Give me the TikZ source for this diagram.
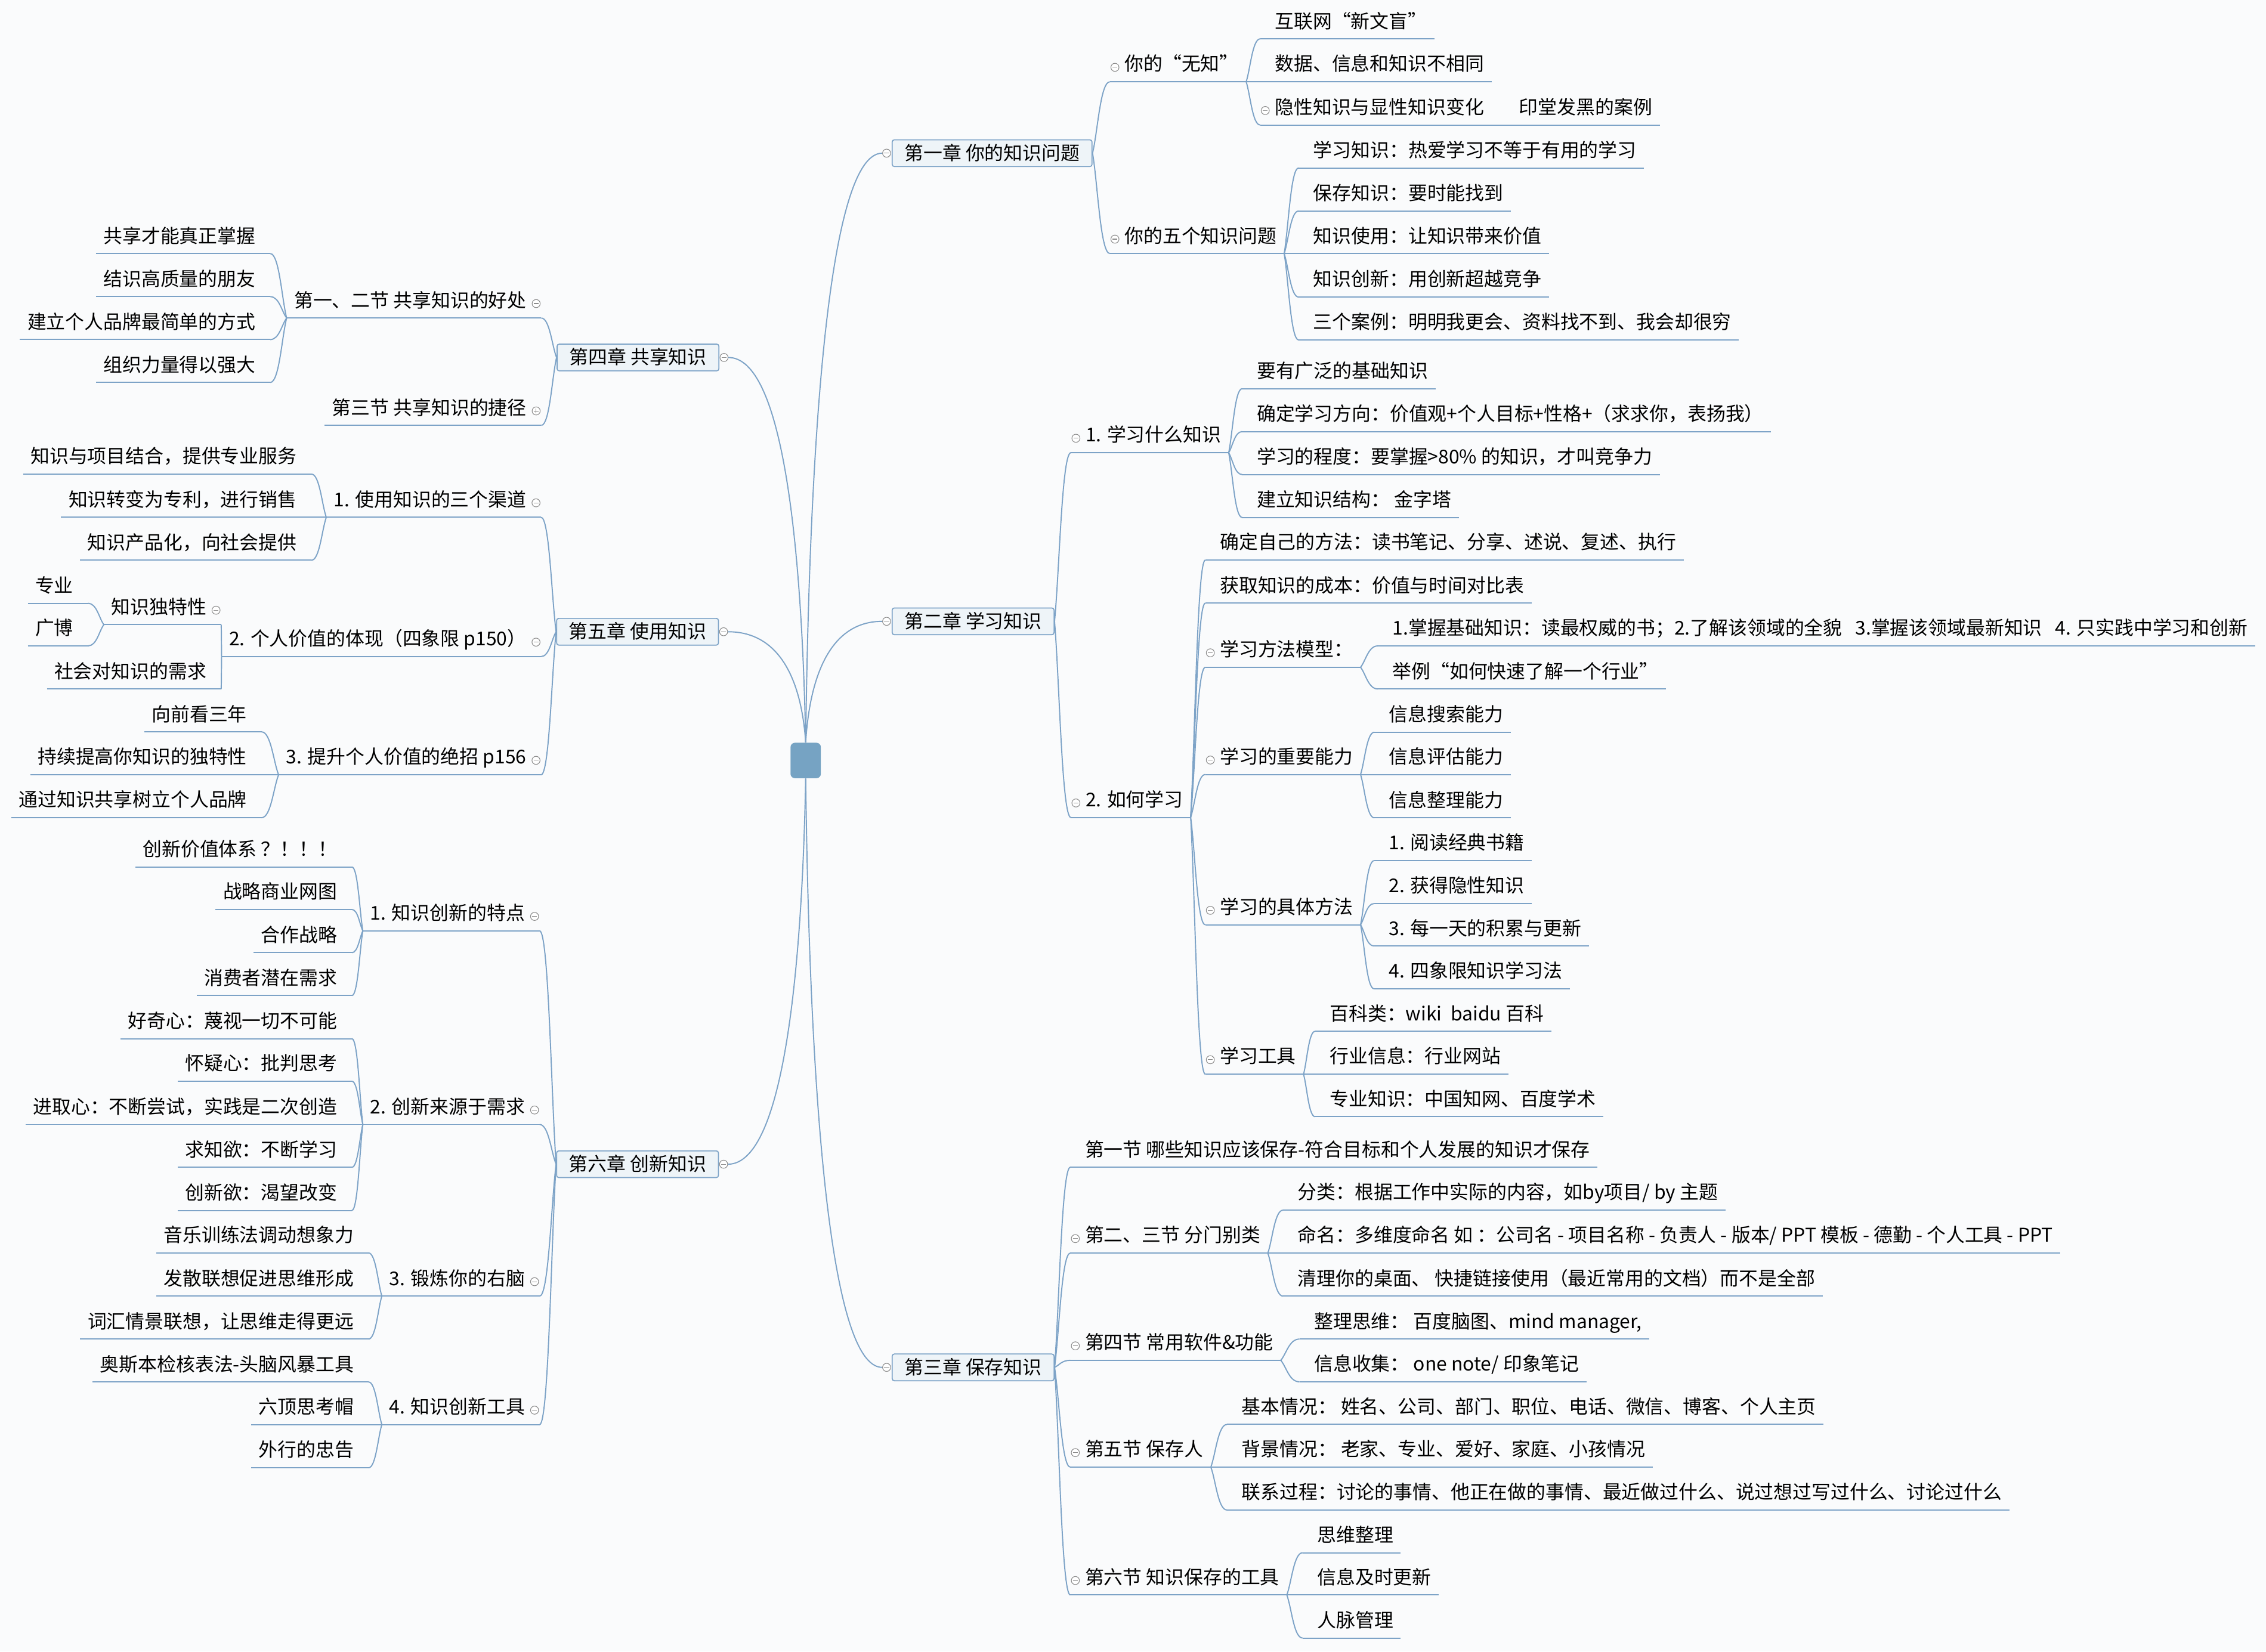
\documentclass[tikz,border=0pt]{standalone}
\usepackage{fontspec}
\setmainfont{Noto Sans CJK SC}
\usetikzlibrary{calc}
\definecolor{lc}{RGB}{125,163,199}
\definecolor{bgc}{RGB}{250,251,252}
\definecolor{ctrc}{RGB}{118,163,195}
\definecolor{chf}{RGB}{238,244,248}
\definecolor{mkc}{RGB}{140,140,140}
\newcommand{\mmfs}{\fontsize{13.15pt}{16pt}\selectfont}
\begin{document}
\begin{tikzpicture}[x=1pt,y=-1pt,
 ul/.style={draw=lc,line width=0.8pt},
 R/.style={anchor=south west,inner xsep=0pt,inner ysep=0pt,text height=10pt,text depth=7.3pt,font=\mmfs,
   execute at begin node={\hspace*{10pt}},execute at end node={\hspace*{5pt}},
   append after command={(\tikzlastnode.south west) edge[ul] (\tikzlastnode.south east)}},
 L/.style={anchor=south east,inner xsep=0pt,inner ysep=0pt,text height=10pt,text depth=7.3pt,font=\mmfs,
   execute at begin node={\hspace*{5pt}},execute at end node={\hspace*{10pt}},
   append after command={(\tikzlastnode.south west) edge[ul] (\tikzlastnode.south east)}},
 mk/.style={circle,draw=mkc,fill=white,line width=0.45pt,inner sep=0pt,minimum size=5.6pt,
   path picture={\draw[mkc,line width=0.45pt] ([xshift=-1.7pt]path picture bounding box.center) -- ([xshift=1.7pt]path picture bounding box.center);}},
 mkp/.style={circle,draw=mkc,fill=white,line width=0.45pt,inner sep=0pt,minimum size=5.6pt,
   path picture={\draw[mkc,line width=0.45pt] ([xshift=-1.7pt]path picture bounding box.center) -- ([xshift=1.7pt]path picture bounding box.center)
     ([yshift=-1.7pt]path picture bounding box.center) -- ([yshift=1.7pt]path picture bounding box.center);}},
 mR/.style={append after command={node[mk] at ([xshift=3.5pt,yshift=10pt]\tikzlastnode.south west) {}}},
 mL/.style={append after command={node[mk] at ([xshift=-3.5pt,yshift=10pt]\tikzlastnode.south east) {}}},
 mLp/.style={append after command={node[mkp] at ([xshift=-3.5pt,yshift=10pt]\tikzlastnode.south east) {}}},
 ch/.style={draw=lc,fill=chf,line width=0.7pt,rounded corners=1.5pt,inner xsep=8.5pt,inner ysep=0pt,
   minimum height=18.5pt,text height=10pt,text depth=0.6pt,font=\mmfs},
 cn/.style={draw=lc,line width=0.8pt,to path={let \p1=(\tikztostart), \p2=(\tikztotarget) in
   .. controls ({\x1+0.3*(\x2-\x1)},{\y1+0.3*(\y2-\y1)}) and ({\x1+0.45*(\x2-\x1)},\y2) .. (\tikztotarget)}},
 cc/.style={draw=lc,line width=0.8pt,to path={let \p1=(\tikztostart), \p2=(\tikztotarget) in
   .. controls ({\x1+0.05*(\x2-\x1)},{\y1+0.52*(\y2-\y1)}) and ({\x1+0.3*(\x2-\x1)},\y2) .. (\tikztotarget)}}
]
\fill[bgc] (0,0) rectangle (1568,1143);
\useasboundingbox (0,0) rectangle (1568,1143);

% centre
\node[fill=ctrc,rounded corners=3pt,minimum width=21pt,minimum height=24.5pt,inner sep=0pt] (ctr) at (557.5,526.3) {};

% chapters
\node[ch,anchor=west] (c1) at (617,106) {第一章 你的知识问题};
\node[mk] (m1) at (613.5,106) {};
\node[ch,anchor=west] (c2) at (617,430) {第二章 学习知识};
\node[mk] (m2) at (613.5,430) {};
\node[ch,anchor=west] (c3) at (617,946.3) {第三章 保存知识};
\node[mk] (m3) at (613.5,946.3) {};
\node[ch,anchor=east] (c4) at (497.8,247.4) {第四章 共享知识};
\node[mk] (m4) at (501,247.4) {};
\node[ch,anchor=east] (c5) at (497.5,437.2) {第五章 使用知识};
\node[mk] (m5) at (500.7,437.2) {};
\node[ch,anchor=east] (c6) at (497.5,805.7) {第六章 创新知识};
\node[mk] (m6) at (500.7,805.7) {};

\path (ctr.north) edge[cc] (m1.west) edge[cc] (m2.west) edge[cc] (m4.east) edge[cc] (m5.east);
\path (ctr.south) edge[cc] (m3.west) edge[cc] (m6.east);

% chapter 1
\node[R,mR] (a1) at (768,56.6) {你的“无知”};
\node[R] (a11) at (872,26.9) {互联网“新文盲”};
\node[R] (a12) at (872,56.6) {数据、信息和知识不相同};
\node[R,mR] (a13) at (872,86.5) {隐性知识与显性知识变化};
\node[R] (a131) at (1041,86.5) {印堂发黑的案例};
\node[R,mR] (a2) at (768,175.5) {你的五个知识问题};
\node[R] (a21) at (898.6,116.2) {学习知识：热爱学习不等于有用的学习};
\node[R] (a22) at (898.6,146) {保存知识：要时能找到};
\node[R] (a23) at (898.6,175.5) {知识使用：让知识带来价值};
\node[R] (a24) at (898.6,205.6) {知识创新：用创新超越竞争};
\node[R] (a25) at (898.6,235.3) {三个案例：明明我更会、资料找不到、我会却很穷};
\path (c1.east) edge[cn] (a1.south west) edge[cn] (a2.south west);
\path (a1.south east) edge[cn] (a11.south west) edge[cn] (a12.south west) edge[cn] (a13.south west);
\path (a13.south east) edge[cn] (a131.south west);
\path (a2.south east) edge[cn] (a21.south west) edge[cn] (a22.south west) edge[cn] (a23.south west)
  edge[cn] (a24.south west) edge[cn] (a25.south west);

% chapter 2
\node[R,mR] (b1) at (741,313.3) {1. 学习什么知识};
\node[R] (b11) at (859.5,269) {要有广泛的基础知识};
\node[R] (b12) at (859.5,298.7) {确定学习方向：价值观+个人目标+性格+（求求你，表扬我）};
\node[R] (b13) at (859.5,328.4) {学习的程度：要掌握>80\% 的知识，才叫竞争力};
\node[R] (b14) at (859.5,358.1) {建立知识结构： 金字塔};
\node[R,mR] (b2) at (741,565.7) {2. 如何学习};
\node[R] (b21) at (834,387.6) {确定自己的方法：读书笔记、分享、述说、复述、执行};
\node[R] (b22) at (834,417.4) {获取知识的成本：价值与时间对比表};
\node[R,mR] (b23) at (834,461.8) {学习方法模型：};
\node[R] (b231) at (953.4,447) {1.掌握基础知识：读最权威的书；2.了解该领域的全貌\hspace{9pt}3.掌握该领域最新知识\hspace{9pt}4. 只实践中学习和创新};
\node[R] (b232) at (953.4,476.8) {举例“如何快速了解一个行业”};
\node[R,mR] (b24) at (834,536) {学习的重要能力};
\node[R] (b241) at (951,506.7) {信息搜索能力};
\node[R] (b242) at (951,536) {信息评估能力};
\node[R] (b243) at (951,566) {信息整理能力};
\node[R,mR] (b25) at (834,640) {学习的具体方法};
\node[R] (b251) at (950.8,595.6) {1. 阅读经典书籍};
\node[R] (b252) at (950.8,625.3) {2. 获得隐性知识};
\node[R] (b253) at (950.8,654.7) {3. 每一天的积累与更新};
\node[R] (b254) at (950.8,684.3) {4. 四象限知识学习法};
\node[R,mR] (b26) at (834,743.4) {学习工具};
\node[R] (b261) at (910,713.7) {百科类：wiki\hspace{6pt}baidu 百科};
\node[R] (b262) at (910,743.4) {行业信息：行业网站};
\node[R] (b263) at (910,772.8) {专业知识：中国知网、百度学术};
\path (c2.east) edge[cn] (b1.south west) edge[cn] (b2.south west);
\path (b1.south east) edge[cn] (b11.south west) edge[cn] (b12.south west) edge[cn] (b13.south west) edge[cn] (b14.south west);
\path (b2.south east) edge[cn] (b21.south west) edge[cn] (b22.south west) edge[cn] (b23.south west)
  edge[cn] (b24.south west) edge[cn] (b25.south west) edge[cn] (b26.south west);
\path (b23.south east) edge[cn] (b231.south west) edge[cn] (b232.south west);
\path (b24.south east) edge[cn] (b241.south west) edge[cn] (b242.south west) edge[cn] (b243.south west);
\path (b25.south east) edge[cn] (b251.south west) edge[cn] (b252.south west) edge[cn] (b253.south west) edge[cn] (b254.south west);
\path (b26.south east) edge[cn] (b261.south west) edge[cn] (b262.south west) edge[cn] (b263.south west);

% chapter 3
\node[R] (d1) at (740.6,807.8) {第一节 哪些知识应该保存-符合目标和个人发展的知识才保存};
\node[R,mR] (d2) at (740.6,867.2) {第二、三节 分门别类};
\node[R] (d21) at (887.8,837.5) {分类：根据工作中实际的内容，如by项目/ by 主题};
\node[R] (d22) at (887.8,867.2) {命名：多维度命名 如 ：公司名 - 项目名称 - 负责人 - 版本/ PPT 模板 - 德勤 - 个人工具 - PPT};
\node[R] (d23) at (887.8,897) {清理你的桌面、 快捷链接使用（最近常用的文档）而不是全部};
\node[R,mR] (d3) at (740.6,941.4) {第四节 常用软件\&功能};
\node[R] (d31) at (899.2,926.7) {整理思维： 百度脑图、mind manager,};
\node[R] (d32) at (899.2,956.3) {信息收集： one note/ 印象笔记};
\node[R,mR] (d4) at (740.6,1015.3) {第五节 保存人};
\node[R] (d41) at (849,985.8) {基本情况： 姓名、公司、部门、职位、电话、微信、博客、个人主页};
\node[R] (d42) at (849,1015.3) {背景情况： 老家、专业、爱好、家庭、小孩情况};
\node[R] (d43) at (849,1045) {联系过程：讨论的事情、他正在做的事情、最近做过什么、说过想过写过什么、讨论过什么};
\node[R,mR] (d5) at (740.6,1103.8) {第六节 知识保存的工具};
\node[R] (d51) at (901.3,1074.6) {思维整理};
\node[R] (d52) at (901.3,1103.8) {信息及时更新};
\node[R] (d53) at (901.3,1133.6) {人脉管理};
\path (c3.east) edge[cn] (d1.south west) edge[cn] (d2.south west) edge[cn] (d3.south west)
  edge[cn] (d4.south west) edge[cn] (d5.south west);
\path (d2.south east) edge[cn] (d21.south west) edge[cn] (d22.south west) edge[cn] (d23.south west);
\path (d3.south east) edge[cn] (d31.south west) edge[cn] (d32.south west);
\path (d4.south east) edge[cn] (d41.south west) edge[cn] (d42.south west) edge[cn] (d43.south west);
\path (d5.south east) edge[cn] (d51.south west) edge[cn] (d52.south west) edge[cn] (d53.south west);

% chapter 4
\node[L,mL] (e1) at (374.5,220.1) {第一、二节 共享知识的好处};
\node[L] (e11) at (187,175.5) {共享才能真正掌握};
\node[L] (e12) at (187,205.3) {结识高质量的朋友};
\node[L] (e13) at (187,235) {建立个人品牌最简单的方式};
\node[L] (e14) at (187,264.7) {组织力量得以强大};
\node[L,mLp] (e2) at (374.5,294.4) {第三节 共享知识的捷径};
\path (c4.west) edge[cn] (e1.south east) edge[cn] (e2.south east);
\path (e1.south west) edge[cn] (e11.south east) edge[cn] (e12.south east) edge[cn] (e13.south east) edge[cn] (e14.south east);

% chapter 5
\node[L,mL] (f1) at (374.4,358) {1. 使用知识的三个渠道};
\node[L] (f11) at (215.5,328.1) {知识与项目结合，提供专业服务};
\node[L] (f12) at (215.5,358) {知识转变为专利，进行销售};
\node[L] (f13) at (215.5,387.7) {知识产品化，向社会提供};
\node[L,mL] (f2) at (374.4,454.4) {2. 个人价值的体现（四象限 p150）};
\node[L,mL] (f21) at (153,432.3) {知识独特性};
\node[L] (f211) at (60.9,417.5) {专业};
\node[L] (f212) at (60.9,447) {广博};
\node[L] (f22) at (153,476.9) {社会对知识的需求};
\node[L,mL] (f3) at (374.4,536.2) {3. 提升个人价值的绝招 p156};
\node[L] (f31) at (181,506.5) {向前看三年};
\node[L] (f32) at (181,536.2) {持续提高你知识的独特性};
\node[L] (f33) at (181,565.9) {通过知识共享树立个人品牌};
\path (c5.west) edge[cn] (f1.south east) edge[cn] (f2.south east) edge[cn] (f3.south east);
\path (f1.south west) edge[cn] (f11.south east) edge[cn] (f12.south east) edge[cn] (f13.south east);
\path (f2.south west) edge[cn] (f21.south east) edge[cn] (f22.south east);
\path (f21.south west) edge[cn] (f211.south east) edge[cn] (f212.south east);
\path (f3.south west) edge[cn] (f31.south east) edge[cn] (f32.south east) edge[cn] (f33.south east);

% chapter 6
\node[L,mL] (g1) at (373.4,644.2) {1. 知识创新的特点};
\node[L] (g11) at (243.5,600) {创新价值体系 ？！！！};
\node[L] (g12) at (243.5,629.4) {战略商业网图};
\node[L] (g13) at (243.5,659.3) {合作战略};
\node[L] (g14) at (243.5,689) {消费者潜在需求};
\node[L,mL] (g2) at (373.4,778.2) {2. 创新来源于需求};
\node[L] (g21) at (243.5,718.8) {好奇心：蔑视一切不可能};
\node[L] (g22) at (243.5,748.3) {怀疑心：批判思考};
\node[L] (g23) at (243.5,778.2) {进取心：不断尝试，实践是二次创造};
\node[L] (g24) at (243.5,807.8) {求知欲：不断学习};
\node[L] (g25) at (243.5,837.7) {创新欲：渴望改变};
\node[L,mL] (g3) at (373.4,897) {3. 锻炼你的右脑};
\node[L] (g31) at (255,867.1) {音乐训练法调动想象力};
\node[L] (g32) at (255,897) {发散联想促进思维形成};
\node[L] (g33) at (255,926.7) {词汇情景联想，让思维走得更远};
\node[L,mL] (g4) at (373.4,985.9) {4. 知识创新工具};
\node[L] (g41) at (255,956.4) {奥斯本检核表法-头脑风暴工具};
\node[L] (g42) at (255,985.9) {六顶思考帽};
\node[L] (g43) at (255,1015.8) {外行的忠告};
\path (c6.west) edge[cn] (g1.south east) edge[cn] (g2.south east) edge[cn] (g3.south east) edge[cn] (g4.south east);
\path (g1.south west) edge[cn] (g11.south east) edge[cn] (g12.south east) edge[cn] (g13.south east) edge[cn] (g14.south east);
\path (g2.south west) edge[cn] (g21.south east) edge[cn] (g22.south east) edge[cn] (g23.south east)
  edge[cn] (g24.south east) edge[cn] (g25.south east);
\path (g3.south west) edge[cn] (g31.south east) edge[cn] (g32.south east) edge[cn] (g33.south east);
\path (g4.south west) edge[cn] (g41.south east) edge[cn] (g42.south east) edge[cn] (g43.south east);
\end{tikzpicture}
\end{document}
